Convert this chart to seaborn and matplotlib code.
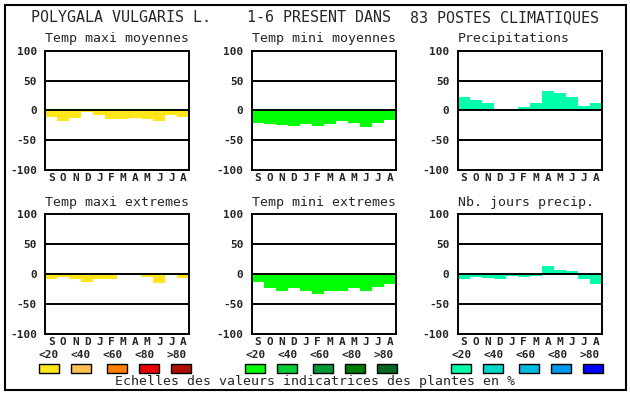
import matplotlib
matplotlib.use("Agg")
import matplotlib.pyplot as plt
import seaborn as sns
import pandas as pd
from matplotlib.patches import Rectangle

months = ["S", "O", "N", "D", "J", "F", "M", "A", "M", "J", "J", "A"]
temp_maxi_moy = [-11, -18, -13, -2, -8, -14, -14, -12, -14, -18, -8, -11]
temp_mini_moy = [-21, -23, -24, -26, -23, -26, -23, -18, -21, -28, -21, -16]
precipitations = [23, 17, 12, 3, 0, 5, 12, 32, 30, 22, 7, 12]
temp_maxi_ext = [-8, -5, -8, -13, -8, -8, 2, 2, -5, -15, 2, -6]
temp_mini_ext = [-13, -24, -28, -24, -28, -33, -28, -28, -23, -28, -21, -16]
nb_jours_precip = [-8, -5, -6, -8, -3, -5, -3, 13, 7, 5, -8, -16]

titles = ["Temp maxi moyennes", "Temp mini moyennes", "Precipitations",
          "Temp maxi extremes", "Temp mini extremes", "Nb. jours precip."]
series = [temp_maxi_moy, temp_mini_moy, precipitations,
          temp_maxi_ext, temp_mini_ext, nb_jours_precip]
bar_colors = ["#FFE619", "#00FF00", "#00FFAA"]
legend_labels = ["<20", "<40", "<60", "<80", ">80"]
legend_colors = [
    ["#FFE619", "#FFBF50", "#FF8000", "#E80000", "#B01000"],
    ["#00FF00", "#00CC33", "#009933", "#007A00", "#006622"],
    ["#00FFAA", "#00D8C8", "#00BBE0", "#0099EE", "#0000FF"],
]
yticks = [100, 50, 0, -50, -100]

sns.set_theme(style="white")
plt.rcParams["font.family"] = ["DejaVu Sans Mono", "DejaVu Sans"]

W, H = 630, 394
fig = plt.figure(figsize=(W / 100, H / 100), dpi=100)
fig.patch.set_facecolor("white")


def fx(x):
    return x / W


def fy(y):
    return 1 - y / H


# frame
fig.patches.append(Rectangle((fx(5), fy(390)), fx(621), (385) / H, transform=fig.transFigure,
                             fill=False, edgecolor="black", linewidth=1.5))

lefts = [45.3, 251.7, 457.7]
tops = [50.7, 214.3]
aw, ah = 144, 119.5

for i, (vals, title) in enumerate(zip(series, titles)):
    r, c = divmod(i, 3)
    L, T = lefts[c], tops[r]
    ax = fig.add_axes([fx(L), fy(T + ah), aw / W, ah / H])
    df = pd.DataFrame({"pos": list(range(12)), "val": vals})
    sns.barplot(data=df, x="pos", y="val", color=bar_colors[c], saturation=1,
                width=1.0, linewidth=0, ax=ax, zorder=2)
    for yv in [50, 0, -50]:
        ax.axhline(yv, color="black", linewidth=1.4, zorder=3)
    ax.set_xlim(-0.5, 11.5)
    ax.set_ylim(-100, 100)
    ax.set_xticks(range(12))
    ax.set_xticklabels(months, fontsize=8, fontweight="bold")
    ax.set_yticks(yticks)
    ax.set_yticklabels([str(t) for t in yticks], fontsize=8, fontweight="bold")
    ax.tick_params(axis="x", length=0, pad=2)
    ax.tick_params(axis="y", length=0, pad=6)
    ax.set_xlabel("")
    ax.set_ylabel("")
    for s in ax.spines.values():
        s.set_visible(True)
        s.set_color("black")
        s.set_linewidth(1.4)
    fig.text(fx(L), fy(T - 12), title, fontsize=9.5, ha="left", va="center")

# legends
offs_sq = [-6.5, 25.5, 61.5, 93.5, 125.5]
offs_lb = [3.5, 35.5, 67.5, 99.5, 131.5]
for c in range(3):
    L = lefts[c]
    for k in range(5):
        fig.text(fx(L + offs_lb[k]), fy(355), legend_labels[k], fontsize=8,
                 fontweight="bold", ha="center", va="center")
        fig.patches.append(Rectangle((fx(L + offs_sq[k]), fy(373)), 20 / W, 9 / H,
                                     transform=fig.transFigure, facecolor=legend_colors[c][k],
                                     edgecolor="black", linewidth=1))

fig.text(fx(31), fy(18), "POLYGALA VULGARIS L.", fontsize=10.8, ha="left", va="center")
fig.text(fx(247), fy(18), "1-6 PRESENT DANS", fontsize=10.8, ha="left", va="center")
fig.text(fx(410), fy(18), "83 POSTES CLIMATIQUES", fontsize=10.8, ha="left", va="center")
fig.text(fx(315), fy(382), "Echelles des valeurs indicatrices des plantes en %",
         fontsize=9.5, ha="center", va="center")

fig.savefig("out.png", dpi=100)
